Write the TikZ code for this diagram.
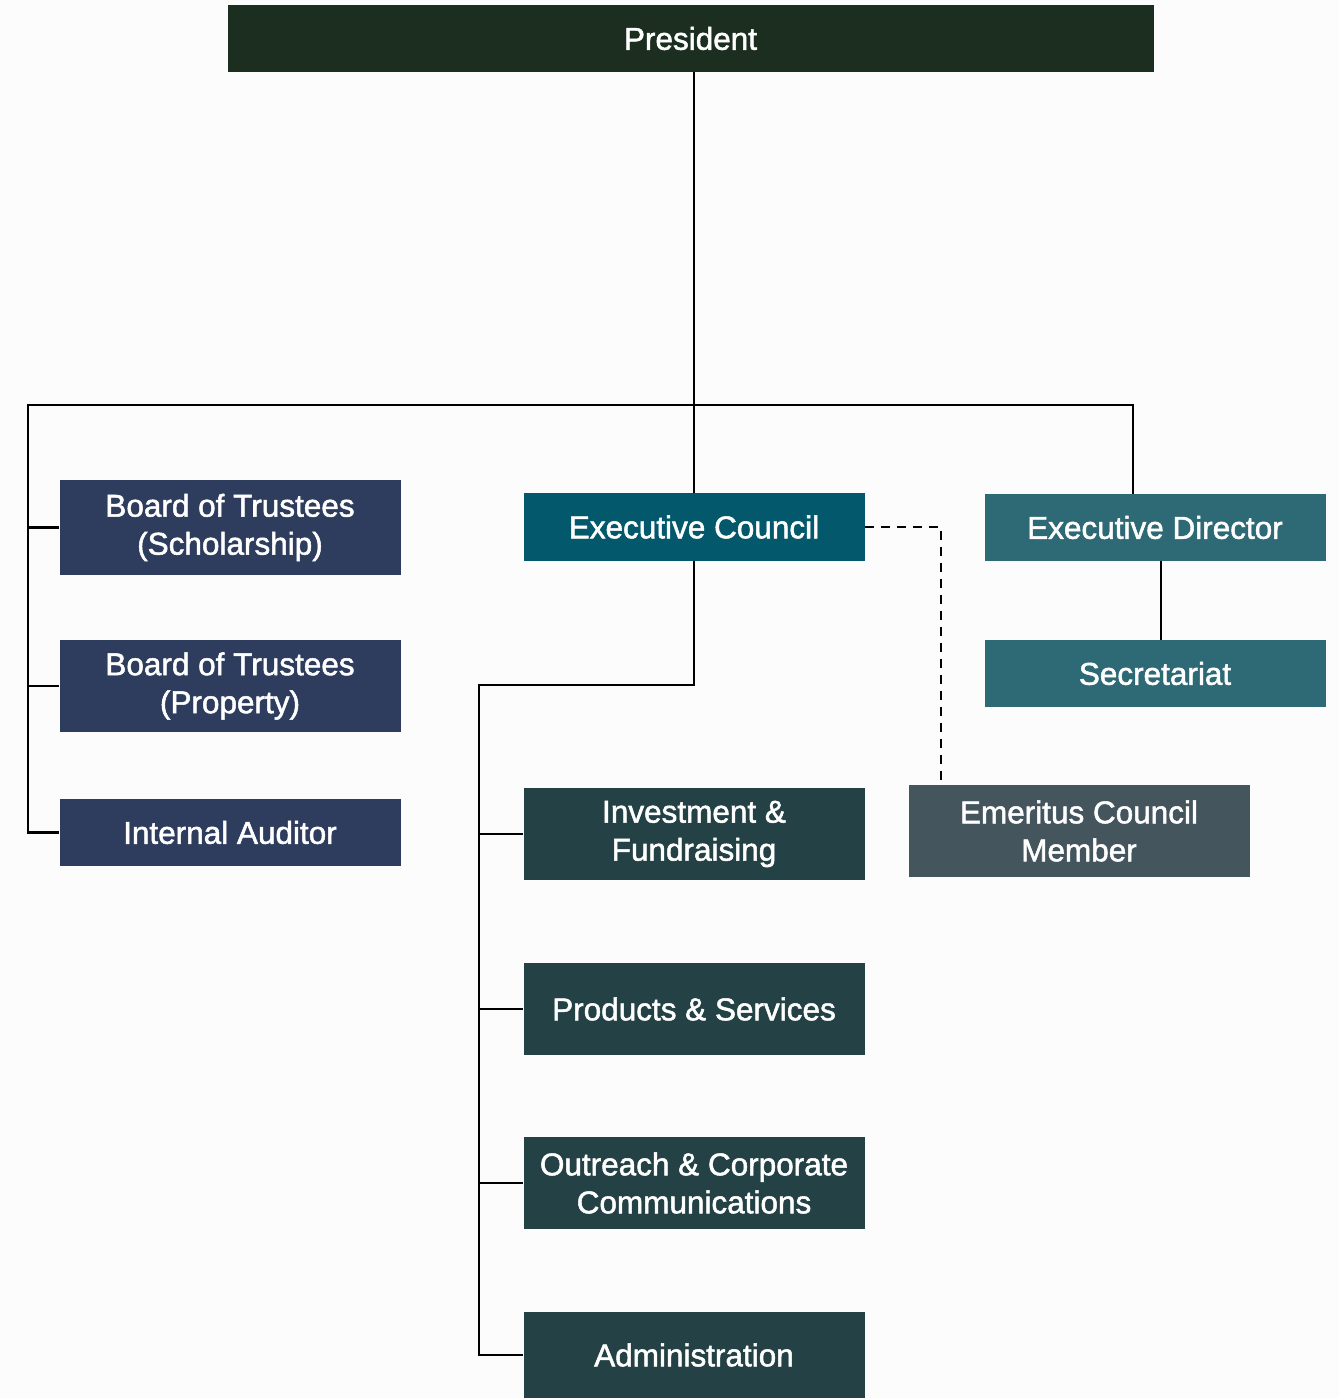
\documentclass[tikz,border=0pt]{standalone}
\usepackage{fontspec}
\setmainfont{Liberation Sans}
\newfontfamily\medfont{Liberation Sans}[RawFeature={embolden=1.6}]
\definecolor{presc}{HTML}{1B2E1F}
\definecolor{boardc}{HTML}{2E3D5E}
\definecolor{ecc}{HTML}{03596B}
\definecolor{deptc}{HTML}{244245}
\definecolor{edc}{HTML}{2E6A75}
\definecolor{emc}{HTML}{44555E}
\definecolor{bgc}{HTML}{FCFCFC}
\tikzset{
  box/.style={rectangle, inner sep=0pt, text=white, align=center,
    font=\medfont\fontsize{31.5}{38}\selectfont},
  conn/.style={line width=2.8pt, black},
  dconn/.style={line width=2.8pt, black, dash pattern=on 9pt off 7pt}
}
\begin{document}
\begin{tikzpicture}[x=1pt,y=-1pt]
\fill[bgc] (0,0) rectangle (1339,1398);
\useasboundingbox (0,0) rectangle (1339,1398);

\node[box, fill=presc, minimum width=926pt, minimum height=67pt] (pres) at (690.5,38.5) {President};

\node[box, fill=boardc, minimum width=341pt, minimum height=95pt] (bts) at (230,527.5) {Board of Trustees\\(Scholarship)};
\node[box, fill=boardc, minimum width=341pt, minimum height=92pt] (btp) at (230,686) {Board of Trustees\\(Property)};
\node[box, fill=boardc, minimum width=341pt, minimum height=67pt] (ia) at (230,832.5) {Internal Auditor};

\node[box, fill=ecc, minimum width=341pt, minimum height=68pt] (ec) at (694,527) {Executive Council};

\node[box, fill=deptc, minimum width=341pt, minimum height=92pt] (inv) at (694,834) {Investment \&\\Fundraising};
\node[box, fill=deptc, minimum width=341pt, minimum height=92pt] (ps) at (694,1009) {Products \& Services};
\node[box, fill=deptc, minimum width=341pt, minimum height=92pt] (oc) at (694,1183) {Outreach \& Corporate\\Communications};
\node[box, fill=deptc, minimum width=341pt, minimum height=86pt] (adm) at (694,1355) {Administration};

\node[box, fill=edc, minimum width=341pt, minimum height=67pt] (ed) at (1155,527.5) {Executive Director};
\node[box, fill=edc, minimum width=341pt, minimum height=67pt] (sec) at (1155,673.5) {Secretariat};

\node[box, fill=emc, minimum width=341pt, minimum height=92pt] (em) at (1079,831) {Emeritus Council\\Member};

% coordinates
\coordinate (hl) at (28,405);
\coordinate (hr) at (1133,405);
\coordinate (ecj) at (694,685);
\coordinate (vl) at (479,685);
\coordinate (dc) at (941,527);

% connectors
\draw[conn] (pres.south -| ec.north) -- (ec.north);
\draw[conn] (hl |- bts.west) -- (hl) -- (hr) -- (hr |- ed.north);
\draw[conn] (hl) -- (hl |- ia.west) -- (ia.west);
\draw[conn] (hl |- bts.west) -- (bts.west);
\draw[conn] (hl |- btp.west) -- (btp.west);

\draw[conn] (ec.south) -- (ecj) -- (vl) -- (vl |- adm.west) -- (adm.west);
\draw[conn] (vl |- inv.west) -- (inv.west);
\draw[conn] (vl |- ps.west) -- (ps.west);
\draw[conn] (vl |- oc.west) -- (oc.west);

\draw[conn] (ed.south -| 1161,0) -- (sec.north -| 1161,0);

\draw[dconn] (ec.east) -- (dc) -- (dc |- em.north);
\end{tikzpicture}
\end{document}
